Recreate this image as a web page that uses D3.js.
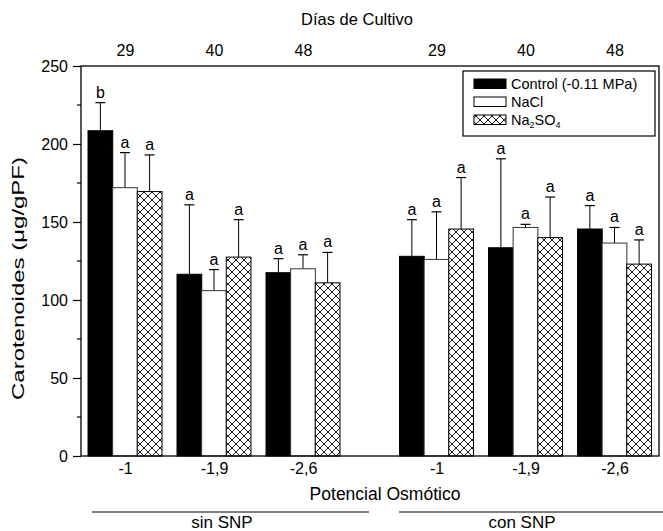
<!DOCTYPE html>
<html>
<head>
<meta charset="utf-8">
<script src="https://cdn.jsdelivr.net/npm/d3@7"></script>
<style>
  html, body { margin: 0; padding: 0; background: #fff; }
  svg { display: block; font-family: "Liberation Sans", Arial, sans-serif; }
</style>
</head>
<body>
<svg id="chart" width="663" height="531"></svg>
<script>
// Osmotic potential categories (bottom axis) and culture days (top axis)
const categories = ["-1", "-1,9", "-2,6", "-1", "-1,9", "-2,6"];
const positions = [1, 2, 3, 4.5, 5.5, 6.5];
const days = ["29", "40", "48", "29", "40", "48"];

// Carotenoid content (µg/gPF) and error (upper SD) per treatment
const control = [208.5, 116.5, 117.5, 128, 133.5, 145.5];
const controlErr = [18, 44.5, 9, 23.5, 57, 15];
const nacl = [172, 106, 120, 126, 146.5, 136.5];
const naclErr = [22.5, 13.5, 9, 30.5, 2, 10];
const na2so4 = [169.5, 127.5, 111, 145.5, 140, 123];
const na2so4Err = [23.5, 24, 19.5, 33, 26, 15.5];

// Significance letters
const controlLetters = ["b", "a", "a", "a", "a", "a"];
const naclLetters = ["a", "a", "a", "a", "a", "a"];
const na2so4Letters = ["a", "a", "a", "a", "a", "a"];

const yTicks = [0, 50, 100, 150, 200, 250];
const yMinorTicks = [25, 75, 125, 175, 225];

const groups = ["sin SNP", "con SNP"];

const series = [
  { name: "Control (-0.11 MPa)", values: control, errs: controlErr, letters: controlLetters, fill: "#000", offset: -1 },
  { name: "NaCl", values: nacl, errs: naclErr, letters: naclLetters, fill: "#fff", offset: 0 },
  { name: "Na2SO4", values: na2so4, errs: na2so4Err, letters: na2so4Letters, fill: "url(#xhatch)", offset: 1 }
];

const FONT = "'Liberation Sans', Arial, sans-serif";
const svg = d3.select("#chart");
const plotL = 81, plotR = 659, plotT = 66, plotB = 456;

const x = d3.scaleLinear().domain([0.5, 7]).range([plotL - 0.5, plotR]);
const y = d3.scaleLinear().domain([0, 250]).range([plotB, plotT]);
const barW = 0.278; // bar width in axis units

// Cross-hatch pattern
const defs = svg.append("defs");
const pat = defs.append("pattern")
  .attr("id", "xhatch").attr("patternUnits", "userSpaceOnUse")
  .attr("width", 8).attr("height", 8);
pat.append("rect").attr("width", 8).attr("height", 8).attr("fill", "#fff");
pat.append("path").attr("d", "M0,0L8,8M8,0L0,8M-1,7L1,9M7,-1L9,1")
  .attr("stroke", "#000").attr("stroke-width", 0.9).attr("fill", "none");

// Bars, error bars and letters
series.forEach(s => {
  const g = svg.append("g");
  positions.forEach((p, i) => {
    const cx = p + s.offset * barW * 0.995;
    const x0 = x(cx - barW / 2), x1 = x(cx + barW / 2);
    const xc = x(cx);
    const yTop = y(s.values[i]);
    const yErr = y(s.values[i] + s.errs[i]);
    g.append("line").attr("x1", xc).attr("x2", xc).attr("y1", yTop).attr("y2", yErr)
      .attr("stroke", "#000").attr("stroke-width", 1);
    g.append("line").attr("x1", xc - 5).attr("x2", xc + 5).attr("y1", yErr).attr("y2", yErr)
      .attr("stroke", "#000").attr("stroke-width", 1.2);
    g.append("rect").attr("x", x0).attr("y", yTop)
      .attr("width", x1 - x0).attr("height", y(0) - yTop)
      .attr("fill", s.fill).attr("stroke", s.offset === 0 ? "#333" : "#000").attr("stroke-width", 1);
    g.append("text").attr("x", xc).attr("y", yErr - 5)
      .attr("text-anchor", "middle").attr("font-size", 16).text(s.letters[i]);
  });
});

// Frame
svg.append("rect").attr("x", plotL).attr("y", plotT)
  .attr("width", plotR - plotL).attr("height", plotB - plotT)
  .attr("fill", "none").attr("stroke", "#000").attr("stroke-width", 1.3);

// Left axis
const yAxis = d3.axisLeft(y).tickValues(yTicks).tickSize(8).tickPadding(5);
const ya = svg.append("g").attr("transform", `translate(${plotL},0)`).call(yAxis);
ya.select(".domain").remove();
ya.selectAll("text").attr("font-size", 16).attr("font-family", FONT).attr("fill", "#000");
ya.selectAll("line").attr("stroke", "#000").attr("stroke-width", 1.2);
svg.append("g").selectAll("line").data(yMinorTicks).join("line")
  .attr("x1", plotL - 4).attr("x2", plotL).attr("y1", d => y(d)).attr("y2", d => y(d))
  .attr("stroke", "#000").attr("stroke-width", 1.2);

// Bottom axis labels
const xb = d3.axisBottom(x).tickValues(positions).tickFormat((d, i) => categories[i]).tickSize(0).tickPadding(7);
const xbg = svg.append("g").attr("transform", `translate(0,${plotB})`).call(xb);
xbg.select(".domain").remove();
xbg.selectAll("text").attr("font-size", 16).attr("font-family", FONT).attr("fill", "#000");

// Top axis labels
const xt = d3.axisTop(x).tickValues(positions).tickFormat((d, i) => days[i]).tickSize(0).tickPadding(10);
const xtg = svg.append("g").attr("transform", `translate(0,${plotT})`).call(xt);
xtg.select(".domain").remove();
xtg.selectAll("text").attr("font-size", 16).attr("font-family", FONT).attr("fill", "#000");

// Axis titles
svg.append("text").attr("x", 357).attr("y", 25).attr("text-anchor", "middle")
  .attr("font-size", 16.5).text("Días de Cultivo");
svg.append("text").attr("x", 385).attr("y", 500).attr("text-anchor", "middle")
  .attr("font-size", 17.5).text("Potencial Osmótico");
svg.append("text").attr("transform", "translate(24,278.5) rotate(-90)").attr("text-anchor", "middle")
  .attr("font-size", 17).attr("textLength", 243).attr("lengthAdjust", "spacingAndGlyphs")
  .text("Carotenoides (μg/gPF)");

// Group brackets
const groupLines = [[92, 369], [399, 663]];
groups.forEach((gname, i) => {
  svg.append("line").attr("x1", groupLines[i][0]).attr("x2", groupLines[i][1])
    .attr("y1", 512).attr("y2", 512).attr("stroke", "#555").attr("stroke-width", 1.3);
  svg.append("text").attr("x", i === 0 ? 222 : 522).attr("y", 528).attr("text-anchor", "middle")
    .attr("font-size", 17).text(gname);
});

// Legend
const lg = svg.append("g");
lg.append("rect").attr("x", 463).attr("y", 71).attr("width", 192).attr("height", 65)
  .attr("fill", "#fff").attr("stroke", "#000").attr("stroke-width", 1.2);
series.forEach((s, i) => {
  const ly = 79 + i * 18;
  lg.append("rect").attr("x", 474).attr("y", ly).attr("width", 32).attr("height", 9.5)
    .attr("fill", s.fill).attr("stroke", "#000").attr("stroke-width", 1);
  const t = lg.append("text").attr("x", 511).attr("y", ly + 9.5).attr("font-size", 14.5);
  if (s.name === "Na2SO4") {
    t.append("tspan").text("Na");
    t.append("tspan").attr("font-size", 9).attr("dy", 3).text("2");
    t.append("tspan").attr("dy", -3).text("SO");
    t.append("tspan").attr("font-size", 9).attr("dy", 3).text("4");
  } else {
    t.text(s.name);
  }
});
</script>
</body>
</html>
